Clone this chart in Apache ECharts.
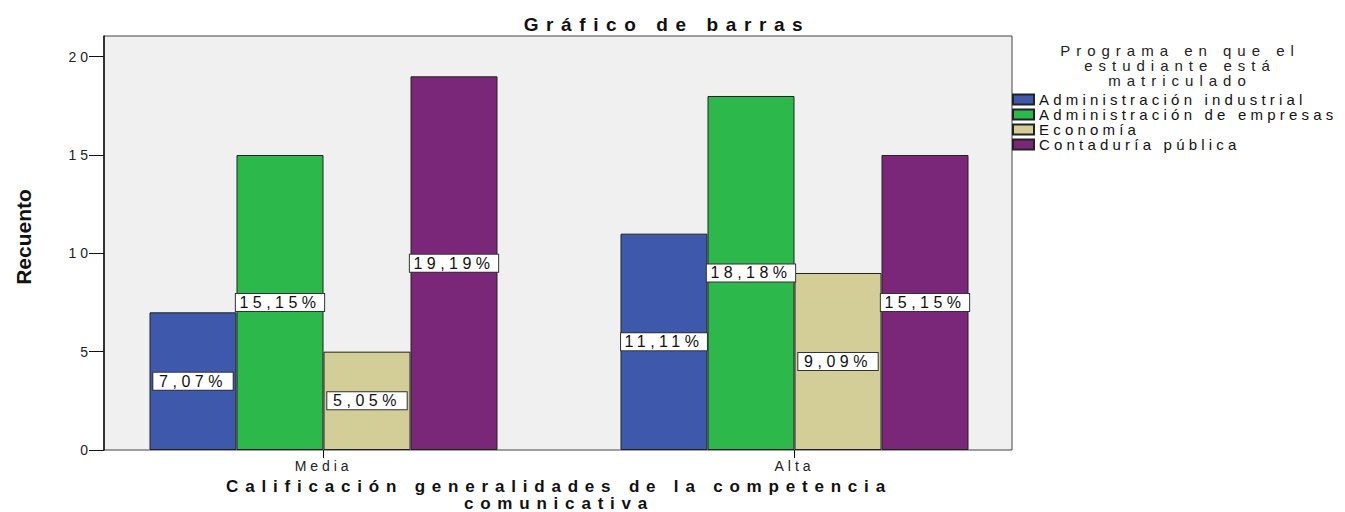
<!DOCTYPE html>
<html>
<head>
<meta charset="utf-8">
<script src="https://cdn.jsdelivr.net/npm/echarts@6.0.0/dist/echarts.min.js"></script>
<style>
  body { margin: 0; background: #fff; }
  #main { width: 1345px; height: 512px; }
  /* the reference text is wide and spaced out */
  #main text { letter-spacing: 0.28em; }
  #main text[style*="Liberation Sans"] { letter-spacing: 0.4em; }
  #main text[style*="Narrow"] { letter-spacing: 0; }
</style>
</head>
<body>
<div id="main"></div>
<script>
const categories = ['Media', 'Alta'];
const programas = ['Administración industrial', 'Administración de empresas', 'Economía', 'Contaduría pública'];
const adminIndustrial = [7, 11];
const adminEmpresas = [15, 18];
const economia = [5, 9];
const contaduria = [19, 15];
const yTicks = [0, 5, 10, 15, 20];

const valores = [adminIndustrial, adminEmpresas, economia, contaduria];
const colores = ['#3e58ac', '#2db84b', '#d3ce97', '#7b2779'];
const total = valores.flat().reduce((a, b) => a + b, 0);
const yMax = 21.05;

const chart = echarts.init(document.getElementById('main'), null, { renderer: 'svg' });

const pct = (v) => (v / total * 100).toFixed(2).replace('.', ',') + '%';

const option = {
  animation: false,
  textStyle: { fontFamily: 'Arial' },
  title: [
    {
      text: 'Gráfico de barras',
      left: 667, top: 14, padding: 0, textAlign: 'center',
      textStyle: { fontFamily: 'Liberation Sans', fontSize: 19, fontWeight: 'bold', color: '#111', lineHeight: 20 }
    },
    {
      text: 'Programa en que el\nestudiante está\nmatriculado',
      left: 1180, top: 43, padding: 0, textAlign: 'center',
      textStyle: { fontFamily: 'Liberation Sans', fontSize: 15, fontWeight: 'normal', color: '#222', lineHeight: 15 }
    }
  ],
  legend: {
    orient: 'vertical',
    left: 1012, top: 92,
    padding: 0,
    itemWidth: 21, itemHeight: 10, itemGap: 0,
    icon: 'rect',
    selectedMode: false,
    textStyle: { fontSize: 15, lineHeight: 14, color: '#111' },
    data: programas
  },
  grid: [
    { left: 104, right: 333, top: 36, bottom: 62, outerBoundsMode: 'none', show: true, backgroundColor: '#f0f0f0', borderColor: '#444', borderWidth: 1 },
    { left: 88, right: 315, top: 36, bottom: 62, outerBoundsMode: 'none' }
  ],
  xAxis: [
    { gridIndex: 0, type: 'category', data: categories, show: false },
    {
      gridIndex: 1, type: 'category', data: categories,
      axisLine: { show: false },
      axisTick: { show: true, alignWithLabel: true, length: 8, lineStyle: { color: '#111' } },
      axisLabel: { fontSize: 14, color: '#222', margin: 9 },
      name: 'Calificación generalidades de la competencia\ncomunicativa',
      nameLocation: 'middle', nameGap: 26,
      nameTextStyle: { fontFamily: 'Liberation Sans', fontSize: 17, fontWeight: 'bold', color: '#111', lineHeight: 17 }
    }
  ],
  yAxis: [
    {
      gridIndex: 0, type: 'value', min: 0, max: yMax,
      splitLine: { show: false },
      axisLine: { show: true, lineStyle: { color: '#111', width: 1.5 } },
      axisTick: { show: true, length: 15, customValues: yTicks, lineStyle: { color: '#111' } },
      axisLabel: { fontSize: 14, color: '#222', margin: 12, customValues: yTicks },
      name: 'Recuento',
      nameLocation: 'middle', nameGap: 70, nameRotate: 90,
      nameTextStyle: { fontFamily: "'Liberation Sans Narrow', Arial", fontSize: 21, fontWeight: 'bold', color: '#111', padding: [0, 0, 0, 12] }
    },
    { gridIndex: 1, type: 'value', min: 0, max: yMax, show: false, splitLine: { show: false } }
  ],
  series: programas.map((name, i) => ({
    name: name,
    type: 'bar',
    xAxisIndex: 1,
    yAxisIndex: 1,
    data: valores[i],
    barWidth: 87,
    barGap: '0%',
    itemStyle: { color: colores[i], borderColor: '#222', borderWidth: 1 },
    label: {
      show: true,
      position: 'inside',
      formatter: (p) => pct(p.value),
      fontSize: 16,
      color: '#111',
      backgroundColor: '#fff',
      borderColor: '#333',
      borderWidth: 1,
      padding: [1, 17, 0, 17]
    }
  }))
};

chart.setOption(option);
</script>
</body>
</html>
